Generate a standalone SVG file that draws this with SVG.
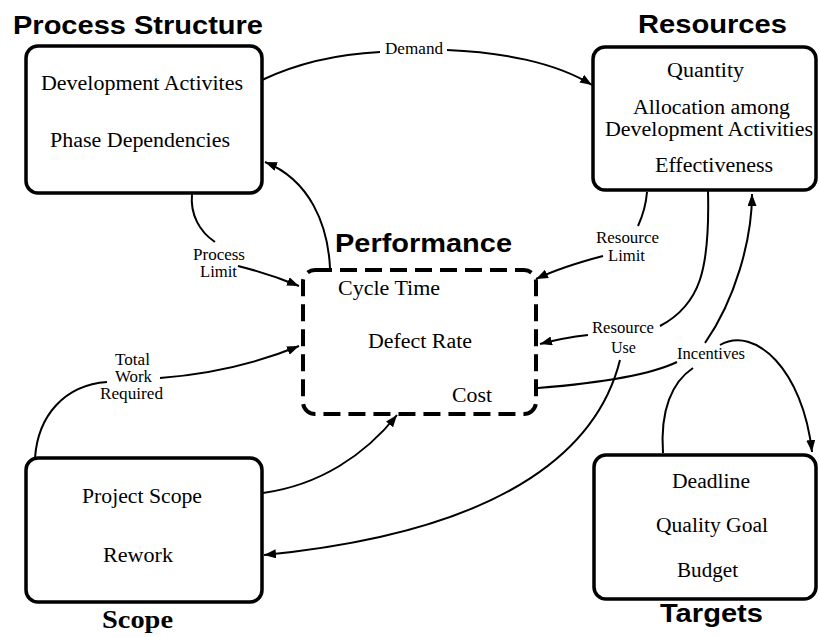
<svg xmlns="http://www.w3.org/2000/svg" width="819" height="637" viewBox="0 0 819 637">
<style>
.box{fill:#fff;stroke:#000;stroke-width:3.5}
.dash{fill:#fff;stroke:#000;stroke-width:4;stroke-dasharray:17 8}
.t{font-family:"Liberation Serif","Times New Roman",serif;font-size:20px;fill:#000}
.lb{font-family:"Liberation Serif","Times New Roman",serif;font-size:16px;fill:#000}
.h{font-family:"Liberation Sans",Arial,sans-serif;font-weight:bold;font-size:25px;fill:#000}
.hs{font-family:"Liberation Serif","Times New Roman",serif;font-weight:bold;font-size:25px;fill:#000}
.c{fill:none;stroke:#000;stroke-width:2}
</style>
<defs>
<marker id="arr" markerUnits="userSpaceOnUse" markerWidth="13" markerHeight="10" refX="12" refY="4.5" orient="auto">
<path d="M0,0 L12,4.5 L0,9 z" fill="#000"/>
</marker>
</defs>
<rect width="819" height="637" fill="#fff"/>
<g id="connectors">
<path class="c" d="M262,80 C300,62 340,54 380,52"/>
<path class="c" d="M447,50 C500,52 555,62 592,85" marker-end="url(#arr)"/>
<path class="c" d="M330,268 C328,225 310,180 265,162" marker-end="url(#arr)"/>
<path class="c" d="M192,194 C190,215 200,232 215,242"/>
<path class="c" d="M238,266 C262,272 282,279 299,286" marker-end="url(#arr)"/>
<path class="c" d="M35,458 C38,415 65,385 107,382"/>
<path class="c" d="M160,378 C210,374 260,362 299,346" marker-end="url(#arr)"/>
<path class="c" d="M263,493 C320,485 365,455 397,415" marker-end="url(#arr)"/>
<path class="c" d="M708,191 C710,270 700,305 660,326"/>
<path class="c" d="M588,335 C570,337 555,340 540,344" marker-end="url(#arr)"/>
<path class="c" d="M620,360 C600,440 520,530 264,555" marker-end="url(#arr)"/>
<path class="c" d="M647,192 C646,205 643,215 638,226"/>
<path class="c" d="M603,256 C580,262 555,270 536,279" marker-end="url(#arr)"/>
<path class="c" d="M538,388 C600,383 650,375 677,362"/>
<path class="c" d="M705,343 C735,300 752,240 752,194" marker-end="url(#arr)"/>
<path class="c" d="M663,453 C660,410 672,382 693,368"/>
<path class="c" d="M720,345 C755,325 803,370 812,452" marker-end="url(#arr)"/>
<text class="lb" x="385" y="54" textLength="58" lengthAdjust="spacingAndGlyphs">Demand</text>
<text class="lb" x="193" y="260" textLength="52" lengthAdjust="spacingAndGlyphs">Process</text>
<text class="lb" x="200" y="277" textLength="37" lengthAdjust="spacingAndGlyphs">Limit</text>
<text class="lb" x="115" y="365" textLength="35" lengthAdjust="spacingAndGlyphs">Total</text>
<text class="lb" x="115" y="382" textLength="37" lengthAdjust="spacingAndGlyphs">Work</text>
<text class="lb" x="100" y="399" textLength="63" lengthAdjust="spacingAndGlyphs">Required</text>
<text class="lb" x="596" y="243" textLength="63" lengthAdjust="spacingAndGlyphs">Resource</text>
<text class="lb" x="608" y="261" textLength="37" lengthAdjust="spacingAndGlyphs">Limit</text>
<text class="lb" x="592" y="333" textLength="62" lengthAdjust="spacingAndGlyphs">Resource</text>
<text class="lb" x="611" y="353" textLength="25" lengthAdjust="spacingAndGlyphs">Use</text>
<text class="lb" x="677" y="359" textLength="68" lengthAdjust="spacingAndGlyphs">Incentives</text>
</g>
<g id="process-structure">
<rect class="box" x="26" y="46" width="236" height="147" rx="12"/>
<text class="h" x="13" y="34" textLength="250" lengthAdjust="spacingAndGlyphs">Process Structure</text>
<text class="t" x="41" y="90" textLength="202" lengthAdjust="spacingAndGlyphs">Development Activites</text>
<text class="t" x="50" y="147" textLength="180" lengthAdjust="spacingAndGlyphs">Phase Dependencies</text>
</g>
<g id="resources">
<rect class="box" x="593" y="47" width="223" height="143" rx="12"/>
<text class="h" x="638" y="33" textLength="149" lengthAdjust="spacingAndGlyphs">Resources</text>
<text class="t" x="667" y="77" textLength="77" lengthAdjust="spacingAndGlyphs">Quantity</text>
<text class="t" x="633" y="114" textLength="157" lengthAdjust="spacingAndGlyphs">Allocation among</text>
<text class="t" x="605" y="136" textLength="208" lengthAdjust="spacingAndGlyphs">Development Activities</text>
<text class="t" x="655" y="172" textLength="118" lengthAdjust="spacingAndGlyphs">Effectiveness</text>
</g>
<g id="performance">
<rect class="dash" x="303" y="270" width="233" height="144" rx="12"/>
<text class="h" x="335" y="252" textLength="177" lengthAdjust="spacingAndGlyphs">Performance</text>
<text class="t" x="338" y="295" textLength="102" lengthAdjust="spacingAndGlyphs">Cycle Time</text>
<text class="t" x="368" y="348" textLength="104" lengthAdjust="spacingAndGlyphs">Defect Rate</text>
<text class="t" x="452" y="402" textLength="40" lengthAdjust="spacingAndGlyphs">Cost</text>
</g>
<g id="scope">
<rect class="box" x="26" y="458" width="236" height="144" rx="12"/>
<text class="t" x="82" y="503" textLength="120" lengthAdjust="spacingAndGlyphs">Project Scope</text>
<text class="t" x="103" y="562" textLength="70" lengthAdjust="spacingAndGlyphs">Rework</text>
<text class="hs" x="102" y="628" textLength="71" lengthAdjust="spacingAndGlyphs">Scope</text>
</g>
<g id="targets">
<rect class="box" x="594" y="455" width="222" height="144" rx="12"/>
<text class="t" x="672" y="488" textLength="78" lengthAdjust="spacingAndGlyphs">Deadline</text>
<text class="t" x="656" y="532" textLength="112" lengthAdjust="spacingAndGlyphs">Quality Goal</text>
<text class="t" x="677" y="577" textLength="61" lengthAdjust="spacingAndGlyphs">Budget</text>
<text class="h" x="660" y="622" textLength="103" lengthAdjust="spacingAndGlyphs">Targets</text>
</g>
</svg>
